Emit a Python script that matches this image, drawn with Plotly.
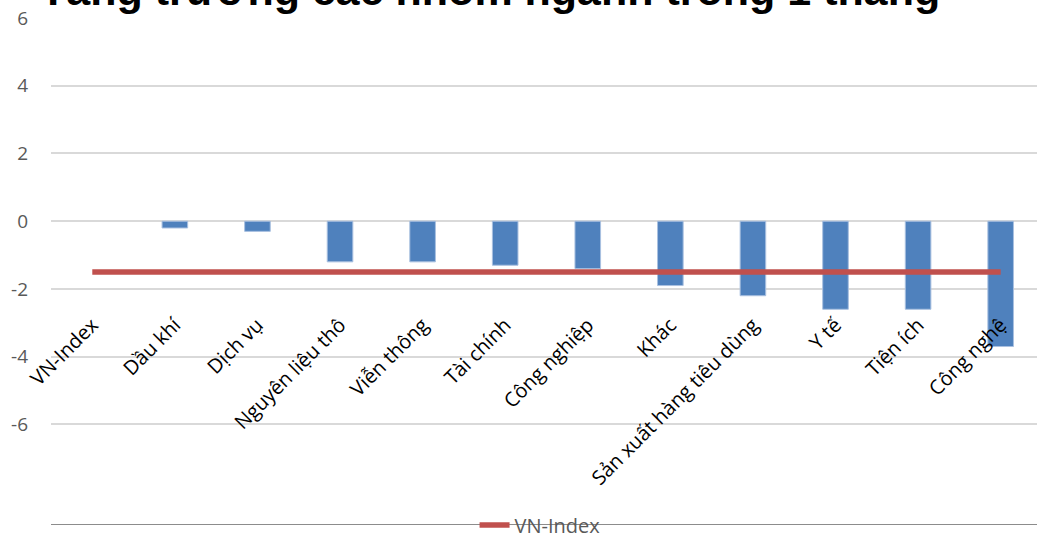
import plotly.graph_objects as go

categories = ["VN-Index", "Dầu khí", "Dịch vụ", "Nguyên liệu thô", "Viễn thông", "Tài chính",
              "Công nghiệp", "Khác", "Sản xuất hàng tiêu dùng", "Y tế", "Tiện ích", "Công nghệ"]
sector_growth = [None, -0.2, -0.3, -1.2, -1.2, -1.3, -1.4, -1.9, -2.2, -2.6, -2.6, -3.7]
vnindex_growth = [-1.5] * 12
y_ticks = [6, 4, 2, 0, -2, -4, -6]
y_tick_labels = ["6", "4", "2", "0", "-2", "-4", "-6"]
title_text = "Tăng trưởng các nhóm ngành trong 1 tháng"

xs = list(range(len(categories)))

fig = go.Figure()
fig.add_trace(go.Bar(
    x=xs, y=sector_growth, width=0.31,
    marker=dict(color="#4f81bd", line=dict(color="#a9c0e0", width=1)),
    showlegend=False, name="Ngành",
))
fig.add_trace(go.Scatter(
    x=xs, y=vnindex_growth, mode="lines", name="VN-Index",
    line=dict(color="#c0504d", width=5.5),
))
# category label axis (free-positioned)
fig.add_trace(go.Scatter(x=xs, y=[None]*len(xs), xaxis="x2", showlegend=False, hoverinfo="skip"))

fig.update_layout(
    width=1037, height=535,
    margin=dict(l=51, r=0, t=18, b=11, autoexpand=False),
    plot_bgcolor="white", paper_bgcolor="white",
    font=dict(family="Open Sans", color="#595959"),
    xaxis=dict(range=[-0.5, 11.44], showticklabels=False, showgrid=False, zeroline=False,
               showline=True, linecolor="#8c8c8c", linewidth=1.2, ticks=""),
    xaxis2=dict(overlaying="x", matches="x", anchor="free", position=0.426, side="bottom",
                tickmode="array", tickvals=xs, ticktext=categories, tickangle=-45,
                showgrid=False, zeroline=False, showline=False, ticks="",
                tickfont=dict(family="Open Sans", size=20, color="#000000")),
    yaxis=dict(range=[-8.94, 6], tickmode="array", tickvals=y_ticks, ticktext=y_tick_labels,
               showgrid=True, gridcolor="#d9d9d9", gridwidth=1.5,
               zeroline=False, ticklabelstandoff=22,
               tickfont=dict(family="Open Sans", size=19, color="#595959")),
    legend=dict(orientation="h", x=0.496, xanchor="center", y=-0.002, yanchor="middle",
                bgcolor="rgba(0,0,0,0)", font=dict(family="Open Sans", size=20, color="#595959")),
    annotations=[dict(text="<b>" + title_text + "</b>", xref="paper", yref="paper", x=-0.013, y=1,
                      xanchor="left", yanchor="bottom", yshift=2, showarrow=False,
                      font=dict(family="Liberation Sans", size=43, color="#000000"))],
)

fig.write_html("out.html", config={"displayModeBar": False},
               post_script="document.body.style.margin='0';")
